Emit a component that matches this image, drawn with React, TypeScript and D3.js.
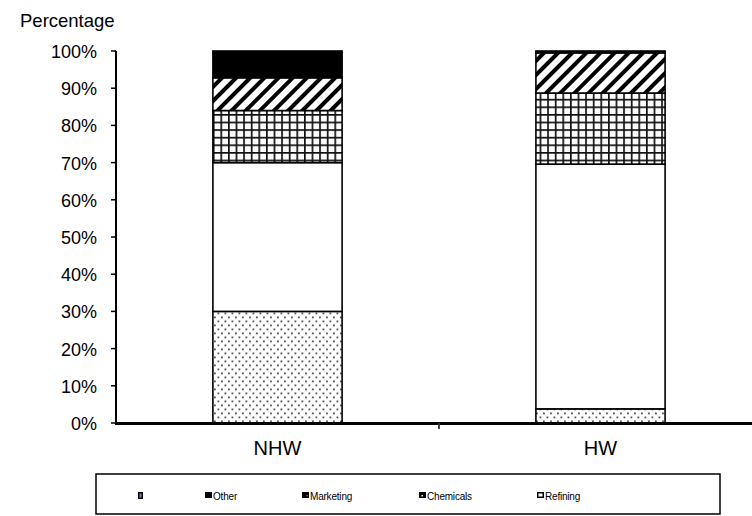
import React from "react";
import * as d3 from "d3";

// Stacked composition of two groups, share of total
const categories = ["NHW", "HW"];
const seriesNames = ["", "Refining", "Chemicals", "Marketing", "Other"]; // bottom to top
const nhwValues = [30, 40, 14, 8.8, 7.2];
const hwValues = [3.8, 65.8, 19.1, 10.8, 0.5];
const yTicks = [0, 10, 20, 30, 40, 50, 60, 70, 80, 90, 100];
const legendOrder = ["", "Other", "Marketing", "Chemicals", "Refining"];

const W = 752;
const H = 516;
const FONT = "'Liberation Sans', Arial, sans-serif";

const fills: Record<string, string> = {
  "": "url(#pDots)",
  Refining: "#ffffff",
  Chemicals: "url(#pGrid)",
  Marketing: "url(#pDiag)",
  Other: "#000000",
};

// legend marker left edges (px)
const legendX = [138, 205, 302, 419, 537];

export default function App() {
  const x = d3.scaleBand<string>().domain(categories).range([116, 762]).padding(0);
  const y = d3.scaleLinear().domain([0, 100]).range([423, 51]);

  const rows = categories.map((c, i) => {
    const vals = i === 0 ? nhwValues : hwValues;
    const o: Record<string, number | string> = { cat: c };
    seriesNames.forEach((s, j) => (o[s] = vals[j]));
    return o;
  });
  const stack = d3.stack<any>().keys(seriesNames)(rows as any);

  const barW = x.bandwidth() * 0.4;

  return (
    <svg
      width={W}
      height={H}
      style={{ position: "absolute", left: 0, top: 0, background: "#fff" }}
      fontFamily={FONT}
    >
      <defs>
        <pattern id="pDots" width={7} height={8} patternUnits="userSpaceOnUse">
          <rect width={7} height={8} fill="#fff" />
          <rect x={0.5} y={0.5} width={1.8} height={1.8} fill="#555" />
          <rect x={4} y={4.5} width={1.8} height={1.8} fill="#555" />
        </pattern>
        <pattern id="pGrid" width={7.6} height={7.6} patternUnits="userSpaceOnUse">
          <rect width={7.6} height={7.6} fill="#fff" />
          <rect x={0} y={0} width={1.7} height={7.6} fill="#111" />
          <rect x={0} y={0} width={7.6} height={1.7} fill="#111" />
        </pattern>
        <pattern
          id="pDiag"
          width={10}
          height={10}
          patternUnits="userSpaceOnUse"
          patternTransform="rotate(45)"
        >
          <rect width={10} height={10} fill="#fff" />
          <rect x={0} y={0} width={4} height={10} fill="#000" />
        </pattern>
      </defs>

      {/* axis title */}
      <text x={20} y={27} fontSize={18.5} fill="#000">
        Percentage
      </text>

      {/* stacked bars */}
      {stack.map((layer) =>
        layer.map((d, i) => {
          const cx = (x(categories[i]) as number) + x.bandwidth() / 2;
          const y0 = y(d[0]);
          const y1 = y(d[1]);
          return (
            <rect
              key={layer.key + i}
              x={cx - barW / 2}
              y={y1}
              width={barW}
              height={Math.max(0, y0 - y1)}
              fill={fills[layer.key as string]}
              stroke="#000"
              strokeWidth={1.6}
            />
          );
        })
      )}

      {/* y axis */}
      <line x1={116} x2={116} y1={y(100)} y2={y(0)} stroke="#000" strokeWidth={2} />
      {yTicks.map((t) => (
        <g key={t}>
          <line x1={111} x2={116} y1={y(t)} y2={y(t)} stroke="#000" strokeWidth={1.5} />
          <text x={97} y={y(t) + 7} fontSize={18} textAnchor="end" fill="#000">
            {t}%
          </text>
        </g>
      ))}

      {/* x axis */}
      <line x1={115} x2={W} y1={y(0) + 0.5} y2={y(0) + 0.5} stroke="#000" strokeWidth={3} />
      {categories.slice(1).map((c) => (
        <line
          key={c}
          x1={x(c) as number}
          x2={x(c) as number}
          y1={y(0)}
          y2={y(0) + 6}
          stroke="#333"
          strokeWidth={1.8}
        />
      ))}
      {categories.map((c) => (
        <text
          key={c}
          x={(x(c) as number) + x.bandwidth() / 2}
          y={455}
          fontSize={20}
          textAnchor="middle"
          fill="#000"
        >
          {c}
        </text>
      ))}

      {/* legend */}
      <rect x={96} y={474} width={624} height={40} fill="#fff" stroke="#000" strokeWidth={1.5} />
      {legendOrder.map((name, i) => {
        const lx = legendX[i];
        return (
          <g key={name || "blank"}>
            {name === "" ? (
              <>
                <rect x={lx} y={492} width={5} height={7} fill="#000" />
                <rect x={lx + 1.5} y={493.5} width={2} height={4} fill="#7a7aff" />
              </>
            ) : name === "Refining" ? (
              <>
                <rect x={lx} y={492} width={7} height={6} fill="#000" />
                <rect x={lx + 1.5} y={493.5} width={4} height={3} fill="#fff" />
              </>
            ) : name === "Chemicals" ? (
              <>
                <rect x={lx} y={492} width={7} height={6} fill="#000" />
                <rect x={lx + 2.5} y={495} width={1.5} height={1.5} fill="#fff" />
              </>
            ) : name === "Marketing" ? (
              <>
                <rect x={lx} y={492} width={7} height={6} fill="#000" />
                <rect x={lx + 4.5} y={495} width={1.2} height={1.2} fill="#888" />
              </>
            ) : (
              <rect x={lx} y={492} width={7} height={6} fill="#000" />
            )}
            {name && (
              <text x={lx + 8} y={499.5} fontSize={10} fill="#000" letterSpacing={-0.2}>
                {name}
              </text>
            )}
          </g>
        );
      })}
    </svg>
  );
}
